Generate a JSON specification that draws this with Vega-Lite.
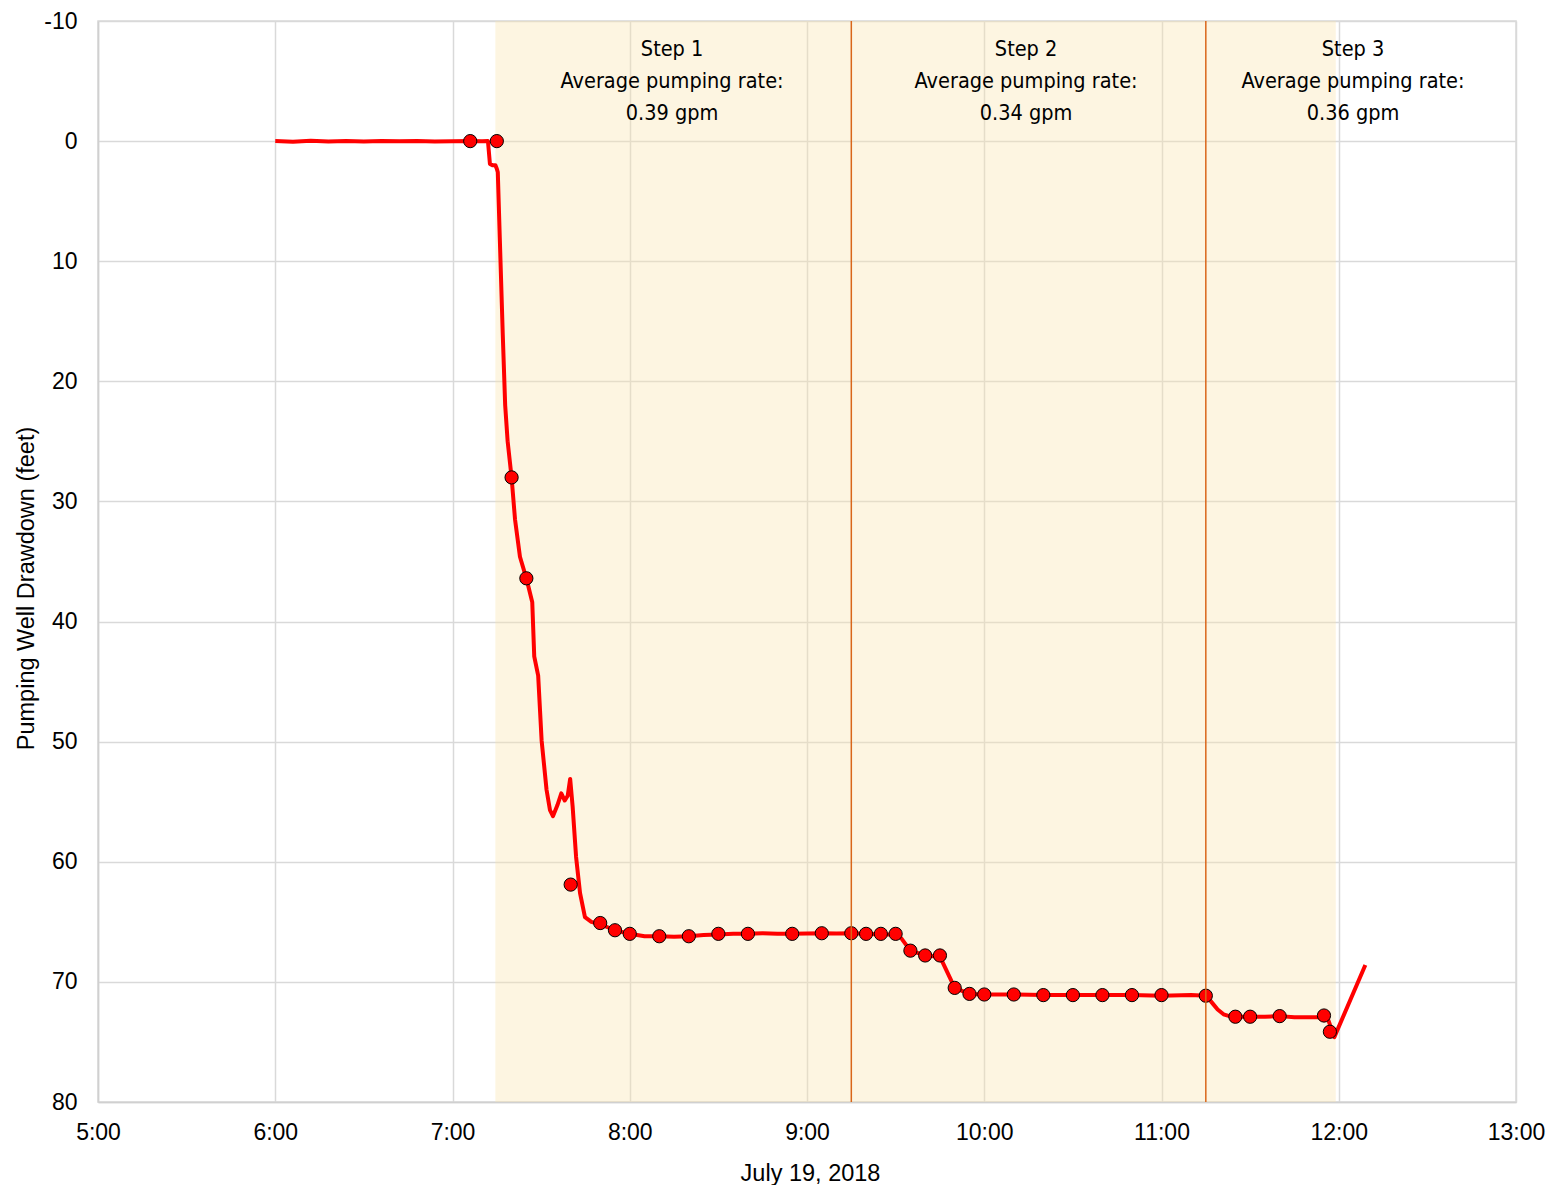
{
  "$schema": "https://vega.github.io/schema/vega-lite/v6.json",
  "width": 1418,
  "height": 1081,
  "autosize": {"type": "none"},
  "padding": {"left": 98, "top": 21, "right": 33, "bottom": 83},
  "background": "white",
  "config": {
    "view": {"stroke": "#d9d9d9", "strokeWidth": 1.5},
    "font": "Liberation Sans",
    "axis": {
      "labelFont": "Liberation Sans",
      "labelFontSize": 23,
      "labelColor": "#000000",
      "titleFont": "Liberation Sans",
      "titleFontSize": 23.5,
      "titleFontWeight": "normal",
      "titleColor": "#000000",
      "gridColor": "#d9d9d9",
      "gridWidth": 1.5,
      "domainColor": "#d0d0d0",
      "domainWidth": 1.5,
      "ticks": false
    }
  },
  "datasets": {
    "stages": [
      {"step": 1, "time": "2018-07-19T07:14:30", "end": "2018-07-19T09:15:00"},
      {"step": 2, "time": "2018-07-19T09:15:00", "end": "2018-07-19T11:15:00"},
      {"step": 3, "time": "2018-07-19T11:15:00", "end": "2018-07-19T11:59:00"}
    ],
    "rates": [
      {"time": "2018-07-19T08:14:20", "label": ["Step 1", "Average pumping rate:", "0.39 gpm"]},
      {"time": "2018-07-19T10:14:10", "label": ["Step 2", "Average pumping rate:", "0.34 gpm"]},
      {"time": "2018-07-19T12:04:50", "label": ["Step 3", "Average pumping rate:", "0.36 gpm"]}
    ],
    "transducer": [
      {"time": "2018-07-19T06:00:00", "drawdown": 0.0},
      {"time": "2018-07-19T06:06:00", "drawdown": 0.05},
      {"time": "2018-07-19T06:12:00", "drawdown": -0.02},
      {"time": "2018-07-19T06:18:00", "drawdown": 0.03},
      {"time": "2018-07-19T06:24:00", "drawdown": 0.0},
      {"time": "2018-07-19T06:30:00", "drawdown": 0.04},
      {"time": "2018-07-19T06:36:00", "drawdown": -0.01},
      {"time": "2018-07-19T06:42:00", "drawdown": 0.02},
      {"time": "2018-07-19T06:48:00", "drawdown": 0.0},
      {"time": "2018-07-19T06:54:00", "drawdown": 0.03},
      {"time": "2018-07-19T07:00:00", "drawdown": 0.01},
      {"time": "2018-07-19T07:06:00", "drawdown": 0.0},
      {"time": "2018-07-19T07:10:00", "drawdown": 0.02},
      {"time": "2018-07-19T07:12:00", "drawdown": 0.0},
      {"time": "2018-07-19T07:12:40", "drawdown": 1.9},
      {"time": "2018-07-19T07:13:30", "drawdown": 2.0},
      {"time": "2018-07-19T07:14:30", "drawdown": 2.0},
      {"time": "2018-07-19T07:15:00", "drawdown": 2.3},
      {"time": "2018-07-19T07:15:20", "drawdown": 2.6},
      {"time": "2018-07-19T07:16:00", "drawdown": 8.0},
      {"time": "2018-07-19T07:17:00", "drawdown": 16.0},
      {"time": "2018-07-19T07:17:50", "drawdown": 22.0},
      {"time": "2018-07-19T07:18:40", "drawdown": 25.0},
      {"time": "2018-07-19T07:20:00", "drawdown": 28.0},
      {"time": "2018-07-19T07:21:10", "drawdown": 31.5},
      {"time": "2018-07-19T07:22:50", "drawdown": 34.6},
      {"time": "2018-07-19T07:25:00", "drawdown": 36.4},
      {"time": "2018-07-19T07:27:00", "drawdown": 38.4},
      {"time": "2018-07-19T07:27:40", "drawdown": 42.9},
      {"time": "2018-07-19T07:29:00", "drawdown": 44.5},
      {"time": "2018-07-19T07:30:10", "drawdown": 49.9},
      {"time": "2018-07-19T07:31:50", "drawdown": 54.0},
      {"time": "2018-07-19T07:33:00", "drawdown": 55.7},
      {"time": "2018-07-19T07:34:00", "drawdown": 56.2},
      {"time": "2018-07-19T07:35:30", "drawdown": 55.3},
      {"time": "2018-07-19T07:36:50", "drawdown": 54.3},
      {"time": "2018-07-19T07:38:00", "drawdown": 54.9},
      {"time": "2018-07-19T07:39:00", "drawdown": 54.5},
      {"time": "2018-07-19T07:39:50", "drawdown": 53.1},
      {"time": "2018-07-19T07:40:40", "drawdown": 55.4},
      {"time": "2018-07-19T07:41:50", "drawdown": 59.6},
      {"time": "2018-07-19T07:43:10", "drawdown": 62.6},
      {"time": "2018-07-19T07:44:50", "drawdown": 64.6},
      {"time": "2018-07-19T07:47:00", "drawdown": 65.0},
      {"time": "2018-07-19T07:50:00", "drawdown": 65.2},
      {"time": "2018-07-19T07:55:00", "drawdown": 65.7},
      {"time": "2018-07-19T08:00:00", "drawdown": 66.0},
      {"time": "2018-07-19T08:05:00", "drawdown": 66.2},
      {"time": "2018-07-19T08:10:00", "drawdown": 66.2},
      {"time": "2018-07-19T08:15:00", "drawdown": 66.25},
      {"time": "2018-07-19T08:20:00", "drawdown": 66.2},
      {"time": "2018-07-19T08:25:00", "drawdown": 66.1},
      {"time": "2018-07-19T08:30:00", "drawdown": 66.05},
      {"time": "2018-07-19T08:35:00", "drawdown": 66.0},
      {"time": "2018-07-19T08:40:00", "drawdown": 66.0},
      {"time": "2018-07-19T08:45:00", "drawdown": 65.95},
      {"time": "2018-07-19T08:50:00", "drawdown": 66.0},
      {"time": "2018-07-19T08:55:00", "drawdown": 66.0},
      {"time": "2018-07-19T09:00:00", "drawdown": 65.98},
      {"time": "2018-07-19T09:05:00", "drawdown": 65.95},
      {"time": "2018-07-19T09:10:00", "drawdown": 65.97},
      {"time": "2018-07-19T09:15:00", "drawdown": 65.95},
      {"time": "2018-07-19T09:20:00", "drawdown": 66.0},
      {"time": "2018-07-19T09:25:00", "drawdown": 66.05},
      {"time": "2018-07-19T09:30:00", "drawdown": 66.05},
      {"time": "2018-07-19T09:32:00", "drawdown": 66.4},
      {"time": "2018-07-19T09:35:00", "drawdown": 67.4},
      {"time": "2018-07-19T09:40:00", "drawdown": 67.8},
      {"time": "2018-07-19T09:45:00", "drawdown": 67.9},
      {"time": "2018-07-19T09:50:00", "drawdown": 70.5},
      {"time": "2018-07-19T09:55:00", "drawdown": 71.0},
      {"time": "2018-07-19T10:00:00", "drawdown": 71.05},
      {"time": "2018-07-19T10:10:00", "drawdown": 71.05},
      {"time": "2018-07-19T10:20:00", "drawdown": 71.1},
      {"time": "2018-07-19T10:30:00", "drawdown": 71.1},
      {"time": "2018-07-19T10:40:00", "drawdown": 71.1},
      {"time": "2018-07-19T10:50:00", "drawdown": 71.1},
      {"time": "2018-07-19T11:00:00", "drawdown": 71.15},
      {"time": "2018-07-19T11:10:00", "drawdown": 71.1},
      {"time": "2018-07-19T11:15:00", "drawdown": 71.15},
      {"time": "2018-07-19T11:16:00", "drawdown": 71.4},
      {"time": "2018-07-19T11:17:30", "drawdown": 71.85},
      {"time": "2018-07-19T11:19:00", "drawdown": 72.3},
      {"time": "2018-07-19T11:21:00", "drawdown": 72.7},
      {"time": "2018-07-19T11:23:00", "drawdown": 72.85},
      {"time": "2018-07-19T11:25:00", "drawdown": 72.9},
      {"time": "2018-07-19T11:30:00", "drawdown": 72.9},
      {"time": "2018-07-19T11:35:00", "drawdown": 72.9},
      {"time": "2018-07-19T11:40:00", "drawdown": 72.85},
      {"time": "2018-07-19T11:45:00", "drawdown": 72.95},
      {"time": "2018-07-19T11:50:00", "drawdown": 72.95},
      {"time": "2018-07-19T11:55:00", "drawdown": 72.95},
      {"time": "2018-07-19T11:56:30", "drawdown": 73.2},
      {"time": "2018-07-19T11:58:30", "drawdown": 74.6},
      {"time": "2018-07-19T12:09:00", "drawdown": 68.6}
    ],
    "manual": [
      {"time": "2018-07-19T07:06:00", "drawdown": 0.0},
      {"time": "2018-07-19T07:15:00", "drawdown": 0.0},
      {"time": "2018-07-19T07:20:00", "drawdown": 28.0},
      {"time": "2018-07-19T07:25:00", "drawdown": 36.4},
      {"time": "2018-07-19T07:40:00", "drawdown": 61.9},
      {"time": "2018-07-19T07:50:00", "drawdown": 65.1},
      {"time": "2018-07-19T07:55:00", "drawdown": 65.7},
      {"time": "2018-07-19T08:00:00", "drawdown": 66.0},
      {"time": "2018-07-19T08:10:00", "drawdown": 66.2},
      {"time": "2018-07-19T08:20:00", "drawdown": 66.2},
      {"time": "2018-07-19T08:30:00", "drawdown": 66.0},
      {"time": "2018-07-19T08:40:00", "drawdown": 66.0},
      {"time": "2018-07-19T08:55:00", "drawdown": 66.0},
      {"time": "2018-07-19T09:05:00", "drawdown": 65.95},
      {"time": "2018-07-19T09:15:00", "drawdown": 65.95},
      {"time": "2018-07-19T09:20:00", "drawdown": 66.0},
      {"time": "2018-07-19T09:25:00", "drawdown": 66.0},
      {"time": "2018-07-19T09:30:00", "drawdown": 66.0},
      {"time": "2018-07-19T09:35:00", "drawdown": 67.4},
      {"time": "2018-07-19T09:40:00", "drawdown": 67.8},
      {"time": "2018-07-19T09:45:00", "drawdown": 67.8},
      {"time": "2018-07-19T09:50:00", "drawdown": 70.5},
      {"time": "2018-07-19T09:55:00", "drawdown": 71.0},
      {"time": "2018-07-19T10:00:00", "drawdown": 71.05},
      {"time": "2018-07-19T10:10:00", "drawdown": 71.05},
      {"time": "2018-07-19T10:20:00", "drawdown": 71.1},
      {"time": "2018-07-19T10:30:00", "drawdown": 71.1},
      {"time": "2018-07-19T10:40:00", "drawdown": 71.1},
      {"time": "2018-07-19T10:50:00", "drawdown": 71.1},
      {"time": "2018-07-19T11:00:00", "drawdown": 71.1},
      {"time": "2018-07-19T11:15:00", "drawdown": 71.15},
      {"time": "2018-07-19T11:25:00", "drawdown": 72.9},
      {"time": "2018-07-19T11:30:00", "drawdown": 72.9},
      {"time": "2018-07-19T11:40:00", "drawdown": 72.85},
      {"time": "2018-07-19T11:55:00", "drawdown": 72.8},
      {"time": "2018-07-19T11:57:00", "drawdown": 74.15}
    ]
  },
  "encoding": {
    "x": {
      "field": "time",
      "type": "temporal",
      "title": "July 19, 2018",
      "scale": {
        "domain": [
          {"year": 2018, "month": 7, "date": 19, "hours": 5},
          {"year": 2018, "month": 7, "date": 19, "hours": 13}
        ]
      },
      "axis": {
        "values": [
          {"year": 2018, "month": 7, "date": 19, "hours": 5},
          {"year": 2018, "month": 7, "date": 19, "hours": 6},
          {"year": 2018, "month": 7, "date": 19, "hours": 7},
          {"year": 2018, "month": 7, "date": 19, "hours": 8},
          {"year": 2018, "month": 7, "date": 19, "hours": 9},
          {"year": 2018, "month": 7, "date": 19, "hours": 10},
          {"year": 2018, "month": 7, "date": 19, "hours": 11},
          {"year": 2018, "month": 7, "date": 19, "hours": 12},
          {"year": 2018, "month": 7, "date": 19, "hours": 13}
        ],
        "format": "%-H:%M",
        "labelPadding": 19,
        "labelOverlap": false,
        "labelFlush": false,
        "titleX": 712,
        "titleY": 78,
        "titleAlign": "center",
        "titleBaseline": "alphabetic"
      }
    }
  },
  "layer": [
    {
      "data": {"name": "stages"},
      "mark": {"type": "rect", "fill": "#fbe5b0", "opacity": 0.38},
      "encoding": {"x2": {"field": "end"}}
    },
    {
      "data": {"name": "transducer"},
      "mark": {"type": "line", "color": "#ff0000", "strokeWidth": 4, "strokeJoin": "round"},
      "encoding": {
        "y": {
          "field": "drawdown",
          "type": "quantitative",
          "title": "Pumping Well Drawdown (feet)",
          "scale": {"domain": [-10, 80], "reverse": true, "nice": false, "zero": false},
          "axis": {
            "values": [-10, 0, 10, 20, 30, 40, 50, 60, 70, 80],
            "labelExpr": "'' + datum.value",
            "labelPadding": 21,
            "titleAngle": 270,
            "titleX": -65,
            "titleY": 567,
            "titleAlign": "center",
            "titleBaseline": "alphabetic"
          }
        }
      }
    },
    {
      "data": {"name": "manual"},
      "mark": {"type": "point", "shape": "circle", "filled": true, "size": 175, "fill": "#ff0000", "stroke": "#000000", "strokeWidth": 1, "opacity": 1},
      "encoding": {
        "y": {
          "field": "drawdown",
          "type": "quantitative",
          "title": "Pumping Well Drawdown (feet)"
        }
      }
    },
    {
      "data": {"name": "stages"},
      "transform": [{"filter": "datum.step > 1"}],
      "mark": {"type": "rule", "color": "#d9661a", "strokeWidth": 1.5},
      "encoding": {}
    },
    {
      "data": {"name": "rates"},
      "mark": {
        "type": "text",
        "font": "DejaVu Sans Condensed, Liberation Sans, sans-serif",
        "fontSize": 21.5,
        "lineHeight": 32,
        "align": "center",
        "baseline": "middle",
        "color": "#000000"
      },
      "encoding": {
        "y": {"datum": -7.62, "type": "quantitative"},
        "text": {"field": "label"}
      }
    }
  ]
}
